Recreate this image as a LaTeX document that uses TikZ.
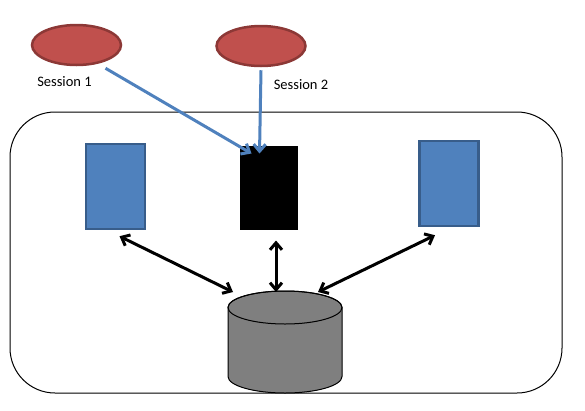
\documentclass[tikz,border=0pt]{standalone}
\usepackage{fontspec}
\setmainfont{Carlito}
\usetikzlibrary{shapes.geometric, arrows.meta}

\definecolor{sessred}{RGB}{192,80,77}
\definecolor{sessline}{RGB}{140,56,54}
\definecolor{appblue}{RGB}{79,129,189}
\definecolor{appline}{RGB}{56,93,138}
\definecolor{dbgray}{RGB}{127,127,127}

\begin{document}
\begin{tikzpicture}[x=1pt, y=-1pt, thick,
    session/.style={ellipse, draw=sessline, fill=sessred, line width=2.5pt, minimum width=89pt, minimum height=40pt, inner sep=0pt},
    app/.style={rectangle, draw=appline, fill=appblue, line width=2.5pt, minimum width=59pt, minimum height=85pt, inner sep=0pt},
    label/.style={font=\fontsize{14.5}{17}\selectfont, inner sep=0pt},
    login/.style={-{Straight Barb[length=7pt, width=12pt]}, draw=appblue, line width=3pt},
    dblink/.style={{Straight Barb[length=7pt, width=12pt]}-{Straight Barb[length=7pt, width=12pt]}, line width=3pt}]
    \useasboundingbox (0,0) rectangle (585,410);

    % Define server box
    \node[draw, rounded corners=45pt, line width=1pt, minimum width=552pt, minimum height=281pt] (server) at (286,252.5) {};

    % Define sessions
    \node[session] (S1) at (76.5,45) {};
    \node[session] (S2) at (261,46) {};
    \node[label] (L1) at (64.5,82) {Session 1};
    \node[label] (L2) at (301,85) {Session 2};

    % Define application instances
    \node[app] (A1) at (115.5,186.5) {};
    \node[app, draw=black, fill=black, line width=1pt, minimum width=57pt, minimum height=83pt] (A2) at (268.5,187.5) {};
    \node[app] (A3) at (449,183.5) {};

    % Define database
    \coordinate (DB) at (285,291);
    \draw[fill=dbgray, line width=1pt] (228,307.5) -- (228,376.5) arc (180:360:57pt and 16.5pt) -- (342,307.5) arc (0:180:57pt and 16.5pt) -- cycle;
    \draw[line width=1pt] (285,307.5) ellipse [x radius=57pt, y radius=16.5pt];

    % Sessions to instance
    \draw[login] ([xshift=29pt,yshift=-2pt]S1.south) -- ([xshift=-17pt,yshift=-8pt]A2.north);
    \draw[login] ([yshift=-3pt]S2.south) -- ([xshift=-9pt,yshift=-8pt]A2.north);

    % Instances to database
    \draw[dblink] ([xshift=4pt,yshift=-6pt]A1.south) -- ([xshift=-52pt,yshift=-1pt]DB);
    \draw[dblink] ([xshift=7.5pt,yshift=-11pt]A2.south) -- ([xshift=-9pt,yshift=-1pt]DB);
    \draw[dblink] ([xshift=-14pt,yshift=-8pt]A3.south) -- ([xshift=33pt,yshift=-1pt]DB);

    \end{tikzpicture}
\end{document}
